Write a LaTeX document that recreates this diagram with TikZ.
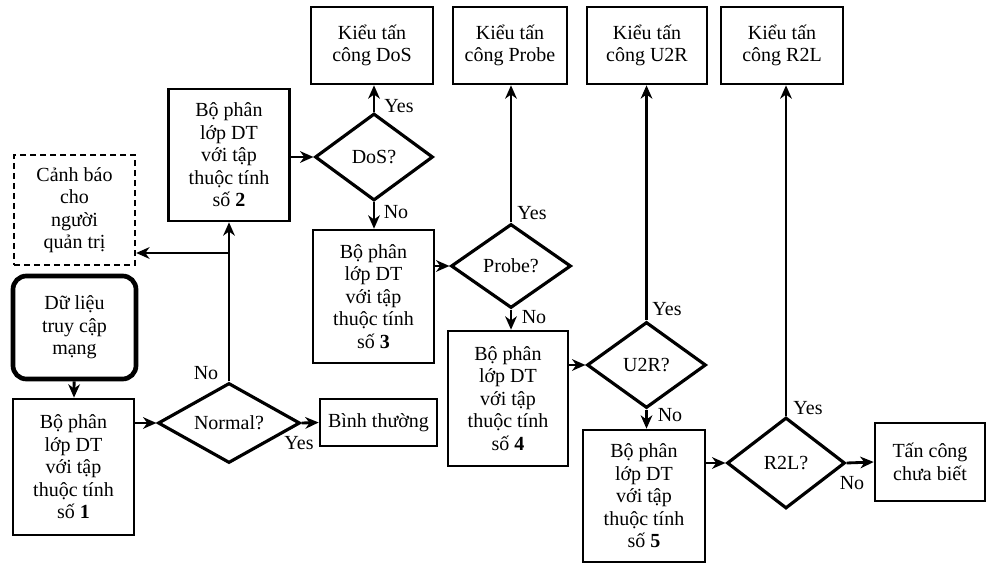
\documentclass[tikz,border=0pt]{standalone}
\usepackage{fontspec}
\setmainfont{Liberation Serif}
\usetikzlibrary{shapes.geometric,arrows.meta}

\begin{document}
\begin{tikzpicture}[x=0.6pt,y=-0.6pt,
	font=\fontsize{12}{13.5}\selectfont,
	box/.style={draw,line width=1.6pt,align=center,inner sep=1pt},
	decision/.style={draw,diamond,aspect=1.6,line width=1.9pt,inner sep=0pt,align=center},
	flow/.style={line width=1.7pt,-{Stealth[length=8pt,width=7pt,inset=2.5pt]}},
	lbl/.style={inner sep=1pt}]
	\def\u{0.6pt}
	\useasboundingbox (0,0) rectangle (986,563);
	
	%LEFT COLUMN
	\node[box,dash pattern=on 3.6pt off 2.4pt,line width=1.4pt,minimum width=121*\u,minimum height=110*\u] (alert) at (74.5,210) {Cảnh báo\\cho\\người\\quản trị};
	\node[box,rounded corners=8pt,line width=2.8pt,minimum width=123*\u,minimum height=103*\u] (data) at (74.5,327.5) {Dữ liệu\\truy cập\\mạng};
	\node[box,minimum width=121*\u,minimum height=136*\u] (cls1) at (73.5,467) {Bộ phân\\lớp DT\\với tập\\thuộc tính\\số \textbf{1}};
	
	%CLASSIFIERS
	\node[box,minimum width=121*\u,minimum height=132*\u] (cls2) at (229,155) {Bộ phân\\lớp DT\\với tập\\thuộc tính\\số \textbf{2}};
	\node[box,minimum width=121*\u,minimum height=133*\u] (cls3) at (373.5,296.5) {Bộ phân\\lớp DT\\với tập\\thuộc tính\\số \textbf{3}};
	\node[box,minimum width=120*\u,minimum height=135*\u] (cls4) at (508,398.5) {Bộ phân\\lớp DT\\với tập\\thuộc tính\\số \textbf{4}};
	\node[box,minimum width=122*\u,minimum height=132*\u] (cls5) at (644,496) {Bộ phân\\lớp DT\\với tập\\thuộc tính\\số \textbf{5}};
	
	%DECISIONS
	\node[decision,minimum width=142*\u,minimum height=80*\u] (qNormal) at (229,423) {Normal?};
	\node[decision,minimum width=118*\u,minimum height=87*\u] (qDoS) at (374,157) {DoS?};
	\node[decision,minimum width=120*\u,minimum height=84*\u] (qProbe) at (511,266) {Probe?};
	\node[decision,minimum width=119*\u,minimum height=86*\u] (qU2R) at (646.5,365) {U2R?};
	\node[decision,minimum width=118*\u,minimum height=91*\u] (qR2L) at (786,463) {R2L?};
	
	%OUTCOMES
	\node[box,minimum width=117*\u,minimum height=47*\u] (normal) at (378.5,422.5) {Bình thường};
	\node[box,minimum width=122*\u,minimum height=77*\u] (dos) at (372,45.5) {Kiểu tấn\\công DoS};
	\node[box,minimum width=114*\u,minimum height=77*\u] (probe) at (510,45.5) {Kiểu tấn\\công Probe};
	\node[box,minimum width=120*\u,minimum height=77*\u] (u2r) at (647,45.5) {Kiểu tấn\\công U2R};
	\node[box,minimum width=122*\u,minimum height=77*\u] (r2l) at (782,45.5) {Kiểu tấn\\công R2L};
	\node[box,minimum width=110*\u,minimum height=78*\u] (unknown) at (930,462) {Tấn công\\chưa biết};
	
	%ARROWS
	\coordinate (split) at (229,253);
	\draw[flow] (data) -- (cls1);
	\draw[flow] (cls1.east |- qNormal.west) -- (qNormal.west);
	\draw[flow] (qNormal.north) -- (qNormal.north |- cls2.south);
	\draw[flow] (split) -- (alert.east |- split);
	\draw[flow] (qNormal.east) -- (normal.west);
	\draw[flow] (cls2.east |- qDoS.west) -- (qDoS.west);
	\draw[flow] (qDoS.north) -- (qDoS.north |- dos.south);
	\draw[flow] (qDoS.south) -- (qDoS.south |- cls3.north);
	\draw[flow] (cls3.east |- qProbe.west) -- (qProbe.west);
	\draw[flow] (qProbe.north) -- (qProbe.north |- probe.south);
	\draw[flow] (qProbe.south) -- (qProbe.south |- cls4.north);
	\draw[flow] (cls4.east |- qU2R.west) -- (qU2R.west);
	\draw[flow] (qU2R.north) -- (qU2R.north |- u2r.south);
	\draw[flow] (qU2R.south) -- (qU2R.south |- cls5.north);
	\draw[flow] (cls5.east |- qR2L.west) -- (qR2L.west);
	\draw[flow] (qR2L.north) -- (qR2L.north |- r2l.south);
	\draw[flow] (qR2L.east) -- (unknown.west);
	
	%YES / NO
	\node[lbl] (noNormal) at (206,373) {No};
	\node[lbl] (yesNormal) at (299,443) {Yes};
	\node[lbl] (yesDoS) at (399,106) {Yes};
	\node[lbl] (noDoS) at (396,212) {No};
	\node[lbl] (yesProbe) at (532,213) {Yes};
	\node[lbl] (noProbe) at (534,317) {No};
	\node[lbl] (yesU2R) at (667,309) {Yes};
	\node[lbl] (noU2R) at (670,415) {No};
	\node[lbl] (yesR2L) at (808,408) {Yes};
	\node[lbl] (noR2L) at (852,483) {No};
\end{tikzpicture}
\end{document}
